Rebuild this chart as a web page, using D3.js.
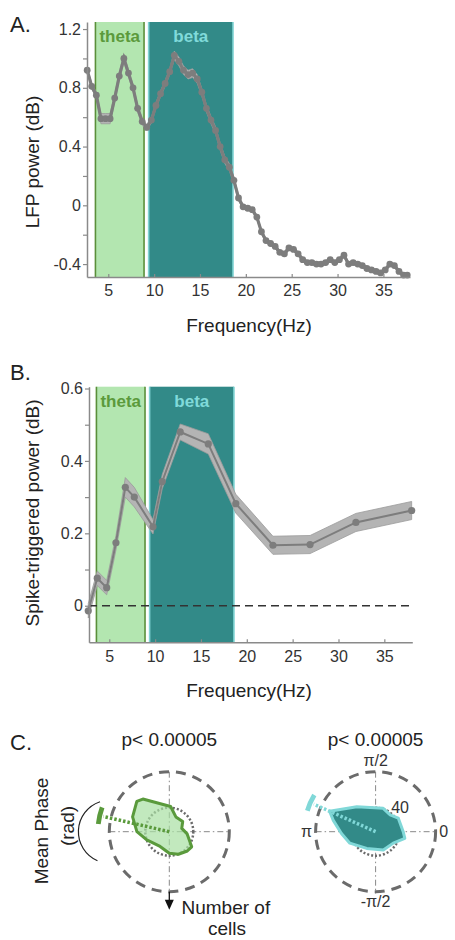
<!DOCTYPE html>
<html>
<head>
<meta charset="utf-8">
<script src="https://cdn.jsdelivr.net/npm/d3@7"></script>
<style>
body { margin: 0; background: #fff; }
svg { display: block; font-family: "Liberation Sans", Arial, sans-serif; }
</style>
</head>
<body>
<svg width="455" height="940"></svg>
<script>
// ---- data ----
var lfpFreq = [2.7, 3.2, 3.7, 4.2, 4.7, 5.2, 5.7, 6.2, 6.7, 7.2, 7.7, 8.2, 8.7, 9.2, 9.7,
    10.2, 10.7, 11.2, 11.7, 12.2, 12.7, 13.2, 13.7, 14.2, 14.7, 15.2, 15.7, 16.2, 16.7, 17.2,
    17.7, 18.2, 18.7, 19.2, 19.7, 20.2, 20.7, 21.2, 21.7, 22.2, 22.7, 23.2, 23.7, 24.2, 24.7,
    25.2, 25.7, 26.2, 26.7, 27.2, 27.7, 28.2, 28.7, 29.2, 29.7, 30.2, 30.7, 31.2, 31.7, 32.2,
    32.7, 33.2, 33.7, 34.2, 34.7, 35.2, 35.7, 36.2, 36.7, 37.2, 37.6];
var lfpPower = [0.92, 0.81, 0.75, 0.59, 0.59, 0.59, 0.73, 0.88, 1.00, 0.90, 0.80, 0.66, 0.57, 0.53, 0.58,
    0.68, 0.76, 0.83, 0.91, 1.02, 0.98, 0.92, 0.89, 0.90, 0.86, 0.77, 0.66, 0.58, 0.51, 0.40,
    0.31, 0.26, 0.17, 0.05, -0.01, -0.02, -0.03, -0.08, -0.18, -0.24, -0.26, -0.28, -0.32, -0.33, -0.29,
    -0.30, -0.33, -0.37, -0.39, -0.39, -0.40, -0.40, -0.39, -0.37, -0.39, -0.37, -0.34, -0.40, -0.39, -0.40,
    -0.41, -0.43, -0.44, -0.45, -0.46, -0.44, -0.40, -0.41, -0.45, -0.475, -0.475];
var lfpSem = [0.02, 0.02, 0.02, 0.035, 0.035, 0.035, 0.025, 0.025, 0.03, 0.025, 0.025, 0.025, 0.025, 0.02, 0.02,
    0.02, 0.02, 0.02, 0.02, 0.03, 0.03, 0.03, 0.03, 0.03, 0.03, 0.025, 0.025, 0.025, 0.025, 0.025,
    0.025, 0.025, 0.025, 0.02, 0.015, 0.015, 0.015, 0.015, 0.015, 0.015, 0.015, 0.015, 0.015, 0.015, 0.015,
    0.015, 0.015, 0.015, 0.015, 0.015, 0.015, 0.015, 0.015, 0.015, 0.015, 0.015, 0.015, 0.015, 0.015, 0.015,
    0.015, 0.015, 0.015, 0.015, 0.015, 0.015, 0.015, 0.015, 0.015, 0.015, 0.015];

var stpFreq = [2.71, 3.69, 4.72, 5.73, 6.75, 7.73, 9.77, 10.78, 12.74, 15.8, 18.8, 22.85, 26.9, 31.9, 37.98];
var stpPower = [-0.014, 0.076, 0.05, 0.174, 0.327, 0.30, 0.218, 0.343, 0.48, 0.447, 0.282, 0.167, 0.169, 0.23, 0.263];
var stpSem = [0.02, 0.02, 0.02, 0.02, 0.027, 0.027, 0.02, 0.02, 0.022, 0.028, 0.026, 0.025, 0.025, 0.025, 0.025];

var thetaBand = [3.6, 8.9],
    betaBand = [9.4, 18.6];

var freqTicks = [5, 10, 15, 20, 25, 30, 35];
var lfpTicks = [-0.4, -0.2, 0, 0.2, 0.4, 0.6, 0.8, 1.0, 1.2],
    lfpTickLabels = [-0.4, 0, 0.4, 0.8, 1.2];
var stpTicks = [0, 0.1, 0.2, 0.3, 0.4, 0.5, 0.6],
    stpTickLabels = [0, 0.2, 0.4, 0.6];

// phase histograms (angle in degrees, counter-clockwise from 0 rad; count of cells)
var thetaPhaseAngle = [137, 129, 87, 66, 37, 15, -7, -34, -47, -68, -90, -122, -160, 180, 158];
var thetaPhaseCount = [74, 70, 42, 27, 28, 21.5, 30, 45, 44, 40.5, 36, 29, 40, 54, 66];
var betaPhaseAngle = [156, 127, 72, 49, 31, 0, -13, -33, -67, -118, -156, -177, 165];
var betaPhaseCount = [84, 52, 41, 37, 44, 46, 50, 35, 33, 31.5, 47, 57, 73];
var thetaMeanPhase = 167,
    betaMeanPhase = 156;
var ringCount = 40, outerCount = 100;

var col = {
    thetaFill: "#b3e6b0", thetaEdge: "#5a8f3a", thetaText: "#5b9a3c",
    betaFill: "#328a88", betaEdge: "#80d4d4", betaText: "#80dada",
    line: "#7d7d7d", band: "#b4b4b4", axis: "#8a8a8a", text: "#333"
};

var svg = d3.select("svg");

function styleAxis(g) {
    g.select(".domain").attr("stroke", col.axis).attr("stroke-width", 1.5);
    g.selectAll(".tick line").attr("stroke", col.axis).attr("stroke-width", 1.2);
    g.selectAll(".tick text").attr("fill", col.text).style("font-size", "16px");
}

function spectrumPanel(o) {
    var x = o.x, y = o.y,
        top = y.range()[1], bottom = y.range()[0];
    var g = svg.append("g");

    // frequency bands
    [[thetaBand, col.thetaFill, col.thetaEdge], [betaBand, col.betaFill, col.betaEdge]].forEach(function(b) {
        g.append("rect")
            .attr("x", x(b[0][0])).attr("y", top)
            .attr("width", x(b[0][1]) - x(b[0][0])).attr("height", bottom - top)
            .attr("fill", b[1]);
        b[0].forEach(function(f) {
            g.append("line")
                .attr("x1", x(f)).attr("x2", x(f)).attr("y1", top).attr("y2", bottom)
                .attr("stroke", b[2]).attr("stroke-width", 1.6);
        });
    });
    g.append("text").attr("x", x((thetaBand[0] + thetaBand[1]) / 2)).attr("y", top + 20)
        .attr("text-anchor", "middle").attr("font-weight", "bold").style("font-size", "17px")
        .attr("fill", col.thetaText).text("theta");
    g.append("text").attr("x", x((betaBand[0] + betaBand[1]) / 2)).attr("y", top + 20)
        .attr("text-anchor", "middle").attr("font-weight", "bold").style("font-size", "17px")
        .attr("fill", col.betaText).text("beta");

    var data = o.freq.map(function(f, i) { return {f: f, v: o.power[i], s: o.sem[i]}; });

    g.append("path").datum(data)
        .attr("d", d3.area().x(function(d) { return x(d.f); })
            .y0(function(d) { return y(d.v - d.s); })
            .y1(function(d) { return y(d.v + d.s); }))
        .attr("fill", col.band).attr("stroke", "#9a9a9a").attr("stroke-width", 0.8);

    if (o.zero) {
        g.append("line")
            .attr("x1", x.range()[0]).attr("x2", x.range()[1])
            .attr("y1", y(0)).attr("y2", y(0))
            .attr("stroke", "#333").attr("stroke-width", 1.3).attr("stroke-dasharray", "8,5");
    }

    g.append("path").datum(data)
        .attr("d", d3.line().x(function(d) { return x(d.f); }).y(function(d) { return y(d.v); }))
        .attr("fill", "none").attr("stroke", col.line).attr("stroke-width", o.lineWidth);

    g.selectAll("circle.pt").data(data).enter().append("circle")
        .attr("cx", function(d) { return x(d.f); })
        .attr("cy", function(d) { return y(d.v); })
        .attr("r", o.dotR).attr("fill", col.line);

    g.append("g").attr("transform", "translate(0," + bottom + ")")
        .call(d3.axisBottom(x).tickValues(freqTicks).tickSize(-3).tickSizeOuter(0).tickPadding(8))
        .call(styleAxis);
    g.append("g").attr("transform", "translate(" + x.range()[0] + ",0)")
        .call(d3.axisLeft(y).tickValues(o.ticks)
            .tickFormat(function(d) { return o.tickLabels.indexOf(d) >= 0 ? String(d) : ""; })
            .tickSize(4).tickSizeOuter(0).tickPadding(2))
        .call(styleAxis);

    g.append("text")
        .attr("transform", "translate(39," + o.labelY + ") rotate(-90)")
        .attr("text-anchor", "middle").style("font-size", "19px").attr("fill", "#222")
        .text(o.ylabel);
    g.append("text").attr("x", 249).attr("y", o.xlabelY)
        .attr("text-anchor", "middle").style("font-size", "19px").attr("fill", "#222")
        .text("Frequency(Hz)");
    g.append("text").attr("x", 10).attr("y", o.letterY)
        .style("font-size", "22px").attr("fill", "#222").text(o.letter);
}

spectrumPanel({
    x: d3.scaleLinear().domain([2.68, 37.9]).range([87, 410]),
    y: d3.scaleLinear().domain([-0.488, 1.248]).range([277, 22]),
    freq: lfpFreq, power: lfpPower, sem: lfpSem,
    ticks: lfpTicks, tickLabels: lfpTickLabels, ylabel: "LFP power (dB)", labelY: 162,
    xlabelY: 332, letter: "A.", letterY: 32, lineWidth: 3.2, dotR: 3.4, zero: false
});

spectrumPanel({
    x: d3.scaleLinear().domain([2.79, 38.05]).range([89, 412.3]),
    y: d3.scaleLinear().domain([-0.101, 0.605]).range([642.3, 386.7]),
    freq: stpFreq, power: stpPower, sem: stpSem,
    ticks: stpTicks, tickLabels: stpTickLabels, ylabel: "Spike-triggered power (dB)", labelY: 513,
    xlabelY: 697, letter: "B.", letterY: 380, lineWidth: 2, dotR: 3.6, zero: true
});

// ---- panel C: polar phase plots ----
var rS = d3.scaleLinear().domain([0, outerCount]).range([0, 60]);
var rad = function(deg) { return (90 - deg) * Math.PI / 180; }; // d3 radial angle

function polar(cx, cy, angles, counts, mean, fill, fillOpacity, stroke, pval) {
    var g = svg.append("g").attr("transform", "translate(" + cx + "," + cy + ")");
    var R = rS(outerCount);

    g.append("line").attr("x1", -R).attr("x2", R).attr("y1", 0).attr("y2", 0)
        .attr("stroke", "#888").attr("stroke-width", 1).attr("stroke-dasharray", "6,3,1.5,3");
    g.append("line").attr("x1", 0).attr("x2", 0).attr("y1", -R).attr("y2", R + 2)
        .attr("stroke", "#888").attr("stroke-width", 1).attr("stroke-dasharray", "6,3,1.5,3");

    g.append("circle").attr("r", R).attr("fill", "none")
        .attr("stroke", "#6b6b6b").attr("stroke-width", 3).attr("stroke-dasharray", "10,7");
    g.append("circle").attr("r", rS(ringCount)).attr("fill", "none")
        .attr("stroke", "#6b6b6b").attr("stroke-width", 2.5).attr("stroke-dasharray", "2,2");

    var pts = angles.map(function(a, i) { return {a: a, c: counts[i]}; });
    g.append("path").datum(pts)
        .attr("d", d3.lineRadial().angle(function(d) { return rad(d.a); })
            .radius(function(d) { return rS(d.c); }).curve(d3.curveLinearClosed))
        .attr("fill", fill).attr("fill-opacity", fillOpacity)
        .attr("stroke", stroke).attr("stroke-width", 3).attr("stroke-linejoin", "round");

    var ex = Math.cos(mean * Math.PI / 180), ey = -Math.sin(mean * Math.PI / 180);
    g.append("line").attr("x1", 0).attr("y1", 0)
        .attr("x2", ex * rS(113)).attr("y2", ey * rS(113))
        .attr("stroke", stroke).attr("stroke-width", 3.5).attr("stroke-dasharray", "2.5,2");
    g.append("path")
        .attr("d", d3.arc().innerRadius(rS(115)).outerRadius(rS(123))
            .startAngle(rad(mean) - 0.12).endAngle(rad(mean) + 0.12)())
        .attr("fill", stroke);

    svg.append("text").attr("x", cx).attr("y", 745.5)
        .attr("text-anchor", "middle").style("font-size", "19px").attr("fill", "#222").text(pval);
    return g;
}

var left = polar(169.3, 831.7, thetaPhaseAngle, thetaPhaseCount, thetaMeanPhase,
    "#a8e0a2", 0.7, "#5a9a3c", "p< 0.00005");
var right = polar(375.6, 831.7, betaPhaseAngle, betaPhaseCount, betaMeanPhase,
    "#328a88", 1, "#80d8d8", "p< 0.00005");

// left plot annotations
left.append("line").attr("x1", 0).attr("x2", 0).attr("y1", 60).attr("y2", 70)
    .attr("stroke", "#111").attr("stroke-width", 1.3);
left.append("path").attr("d", d3.line()([[-4.5, 68], [4.5, 68], [0, 78]]) + "Z").attr("fill", "#111");
var bracket = d3.path();
bracket.arc(110, 831.7, 31.6, 113.4 * Math.PI / 180, 251.6 * Math.PI / 180, false);
svg.append("path").attr("d", bracket.toString())
    .attr("fill", "none").attr("stroke", "#222").attr("stroke-width", 1.2);
svg.append("text").attr("transform", "translate(48,831) rotate(-90)")
    .attr("text-anchor", "middle").style("font-size", "19px").attr("fill", "#222").text("Mean Phase");
svg.append("text").attr("transform", "translate(74,826) rotate(-90)")
    .attr("text-anchor", "middle").style("font-size", "19px").attr("fill", "#222").text("(rad)");
svg.append("text").attr("x", 181.5).attr("y", 914)
    .style("font-size", "19px").attr("fill", "#222").text("Number of");
svg.append("text").attr("x", 208).attr("y", 935)
    .style("font-size", "19px").attr("fill", "#222").text("cells");

// right plot angle labels
var angLabels = [["π/2", 0, -66], ["-π/2", 0, 75], ["π", -69, 5.5], ["0", 68, 5.5], ["40", 24.5, -18.5]];
right.selectAll("text.ang").data(angLabels).enter().append("text")
    .attr("x", function(d) { return d[1]; }).attr("y", function(d) { return d[2]; })
    .attr("text-anchor", "middle").style("font-size", "16px").attr("fill", "#333")
    .text(function(d) { return d[0]; });

svg.append("text").attr("x", 10).attr("y", 750)
    .style("font-size", "22px").attr("fill", "#222").text("C.");
</script>
</body>
</html>
